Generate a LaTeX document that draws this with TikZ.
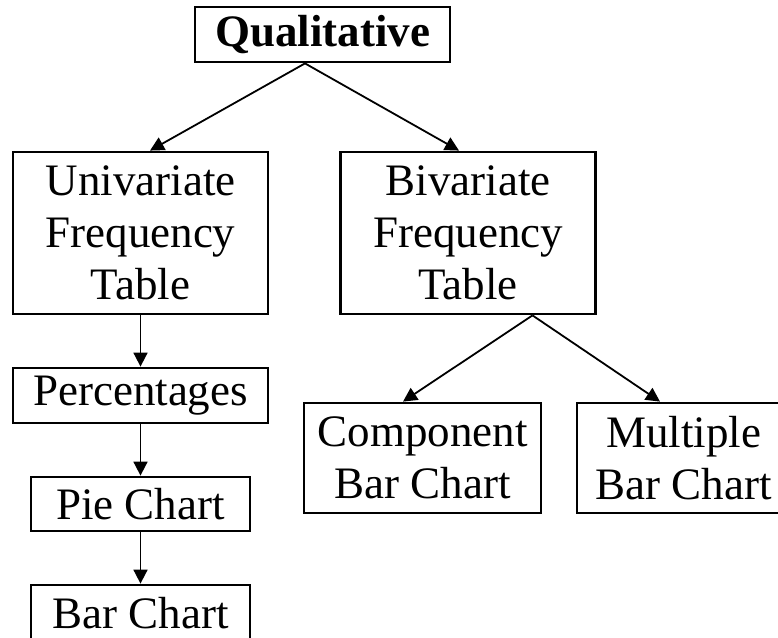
\documentclass[tikz,border=0pt]{standalone}
\usepackage{fontspec}
\setmainfont{Liberation Serif}
\usetikzlibrary{positioning,arrows.meta}

\begin{document}
\begin{tikzpicture}[x=1pt,y=-1pt,
  box/.style={draw, line width=2.8pt, inner sep=0pt, align=center, font=\fontsize{45}{52}\selectfont},
  link/.style={line width=1.8pt, -{Triangle[length=14pt,width=14pt]}}]
  \useasboundingbox (0,0) rectangle (778,637);
  \node[box, minimum width=255pt, minimum height=55pt, font=\bfseries\fontsize{45}{52}\selectfont] (qual) at (322.5,34.5) {Qualitative};
  \node[box, minimum width=255pt, minimum height=162pt] (uni) at (140.5,233) {Univariate\\Frequency\\Table};
  \node[box, minimum width=255pt, minimum height=162pt] (biv) at (468,233) {Bivariate\\Frequency\\Table};
  \node[box, minimum width=255pt, minimum height=55pt] (perc) at (140.5,395.5) {Percentages};
  \node[box, minimum width=219pt, minimum height=54pt] (pie) at (140.5,504) {Pie Chart};
  \node[box, minimum width=219pt, minimum height=56pt] (bar) at (140.5,613) {Bar Chart};
  \node[box, minimum width=237pt, minimum height=110pt] (comp) at (422.5,458) {Component\\Bar Chart};
  \node[box, minimum width=213pt, minimum height=110pt] (mult) at (683.5,458) {Multiple\\Bar Chart};
  \draw[link] ([xshift=-17.5pt]qual.south) -- ([xshift=9.5pt]uni.north);
  \draw[link] ([xshift=-17.5pt]qual.south) -- ([xshift=-9pt]biv.north);
  \draw[link] (uni.south) -- (perc.north);
  \draw[link] (perc.south) -- (pie.north);
  \draw[link] (pie.south) -- (bar.north);
  \draw[link] ([xshift=64.5pt]biv.south) -- ([xshift=-19.5pt]comp.north);
  \draw[link] ([xshift=64.5pt]biv.south) -- ([xshift=-23.5pt]mult.north);
\end{tikzpicture}
\end{document}
